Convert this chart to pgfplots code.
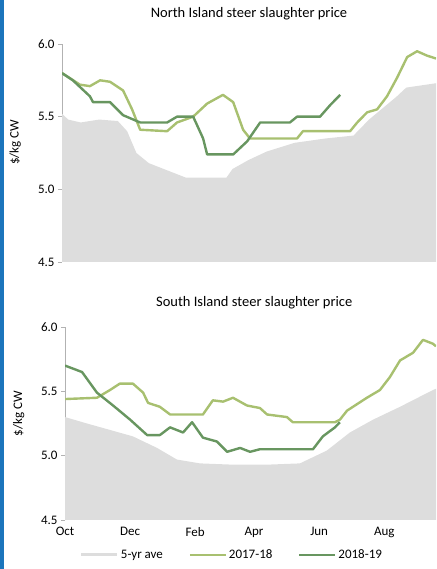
\documentclass[border=0pt]{standalone}
\usepackage{fontspec}
\setmainfont{Carlito}
\usepackage{pgfplots}
\pgfplotsset{compat=1.18}

\definecolor{avegrey}{RGB}{221,221,221}
\definecolor{lightgreen}{RGB}{168,192,112}
\definecolor{darkgreen}{RGB}{104,150,96}
\definecolor{edgeblue}{RGB}{28,117,188}

\pgfplotsset{
  steer/.style={
    scale only axis,
    anchor=south west,
    ymin=4.5, ymax=6.0,
    ytick={4.5,5.0,5.5,6.0},
    yticklabel style={/pgf/number format/.cd,fixed,fixed zerofill,precision=1,assume math mode=true},
    axis lines*=left,
    x axis line style={draw=none},
    y axis line style={draw=gray!60, line width=0.8pt},
    ytick style={draw=gray!60, line width=0.8pt},
    xtick style={draw=none},
    tick align=outside,
    major tick length=4pt,
    ylabel={\$/kg CW},
    ylabel style={at={(axis description cs:-0.125,0.55)}, anchor=center, font=\fontsize{13}{14}\selectfont},
    tick label style={font=\fontsize{13}{14}\selectfont},
    title style={font=\fontsize{14.5}{16}\selectfont, anchor=center},
  },
  ave/.style={fill=avegrey, draw=none,
    legend image code/.code={\draw[avegrey, line width=3pt] (0pt,0pt) -- (36pt,0pt);}},
  y17/.style={lightgreen, line width=2.4pt, line join=round,
    legend image code/.code={\draw[lightgreen, line width=2pt] (0pt,0pt) -- (36pt,0pt);}},
  y18/.style={darkgreen, line width=2.4pt, line join=round,
    legend image code/.code={\draw[darkgreen, line width=2pt] (0pt,0pt) -- (36pt,0pt);}},
}

\begin{document}
\begin{tikzpicture}
\useasboundingbox (0,0) rectangle (436pt,569pt);
\fill[edgeblue] (0,0) rectangle (3.5pt,569pt);

% North Island (x in months from 1 October)
\begin{axis}[steer,
  at={(62pt,307pt)}, width=374pt, height=218pt,
  xmin=0, xmax=12.06, xtick=\empty,
  title={North Island steer slaughter price},
  title style={at={(axis description cs:0.5,1.11)}},
]
\addplot[ave] coordinates {
 (0,5.52) (0.2,5.48) (0.6,5.46) (1.2,5.48) (1.8,5.47) (2.1,5.40) (2.4,5.25)
 (2.8,5.18) (3.4,5.13) (4.0,5.08) (5.3,5.08) (5.5,5.14) (6.0,5.20) (6.6,5.26)
 (7.5,5.32) (8.5,5.35) (9.4,5.37) (9.9,5.48) (10.8,5.64) (11.1,5.70) (12.06,5.73)
} \closedcycle;
\addplot[y17] coordinates {
 (0,5.80) (0.58,5.72) (0.9,5.71) (1.23,5.75) (1.55,5.74) (1.97,5.68) (2.26,5.55)
 (2.52,5.41) (3.39,5.40) (3.71,5.46) (4.23,5.50) (4.68,5.59) (5.19,5.65) (5.52,5.60)
 (5.84,5.41) (6.06,5.35) (7.58,5.35) (7.77,5.40) (9.29,5.40) (9.52,5.46) (9.84,5.53)
 (10.16,5.55) (10.48,5.64) (10.81,5.77) (11.13,5.91) (11.45,5.95) (11.77,5.92) (12.06,5.90)
};
\addplot[y18] coordinates {
 (0,5.80) (0.35,5.75) (0.9,5.64) (1.0,5.60) (1.55,5.60) (1.97,5.51) (2.52,5.46)
 (3.39,5.46) (3.71,5.50) (4.23,5.50) (4.55,5.35) (4.68,5.24) (5.52,5.24) (5.97,5.33)
 (6.39,5.46) (7.35,5.46) (7.58,5.50) (8.32,5.50) (8.65,5.58) (8.97,5.65)
};
\end{axis}

% South Island
\begin{axis}[steer,
  at={(65pt,49pt)}, width=371pt, height=193pt,
  xmin=0, xmax=11.97,
  xtick={0,2.1,4.2,6.1,8.2,10.3},
  xticklabels={Oct,Dec,Feb,Apr,Jun,Aug},
  title={South Island steer slaughter price},
  title style={at={(axis description cs:0.51,1.093)}},
  legend columns=3,
  legend style={draw=none, fill=none, at={(axis description cs:0.45,-0.181)}, anchor=center,
    font=\fontsize{13}{14}\selectfont, inner xsep=1pt,
    /tikz/every even column/.append style={column sep=24pt}},
]
\addplot[ave] coordinates {
 (0,5.30) (0.71,5.25) (1.45,5.20) (2.19,5.15) (2.97,5.06) (3.61,4.97) (4.35,4.94)
 (5.42,4.93) (6.52,4.93) (7.58,4.94) (8.45,5.04) (9.19,5.18) (9.94,5.28) (10.81,5.38)
 (11.87,5.51) (11.97,5.52)
} \closedcycle;
\addlegendentry{5-yr ave}
\addplot[y17] coordinates {
 (0,5.44) (1.03,5.45) (1.45,5.51) (1.77,5.56) (2.19,5.56) (2.52,5.49) (2.68,5.41)
 (3.06,5.38) (3.39,5.32) (4.45,5.32) (4.77,5.43) (5.10,5.42) (5.42,5.45) (5.87,5.39)
 (6.29,5.37) (6.52,5.32) (7.16,5.30) (7.35,5.26) (8.71,5.26) (8.87,5.28) (9.10,5.35)
 (9.74,5.45) (10.16,5.51) (10.48,5.61) (10.81,5.74) (11.23,5.80) (11.55,5.90) (11.87,5.87) (11.97,5.85)
};
\addlegendentry{2017-18}
\addplot[y18] coordinates {
 (0,5.70) (0.55,5.65) (1.03,5.49) (1.55,5.39) (2.10,5.28) (2.65,5.16) (3.06,5.16)
 (3.39,5.22) (3.81,5.18) (4.10,5.26) (4.45,5.14) (4.90,5.11) (5.23,5.03) (5.65,5.06)
 (5.97,5.03) (6.29,5.05) (8.0,5.05) (8.32,5.15) (8.71,5.22) (8.87,5.26)
};
\addlegendentry{2018-19}
\end{axis}
\end{tikzpicture}
\end{document}
